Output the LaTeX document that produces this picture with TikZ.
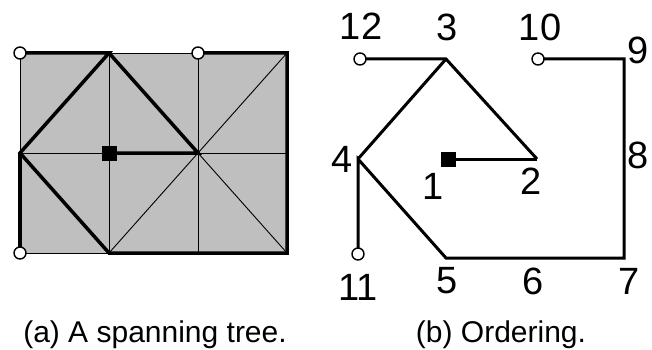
\documentclass[tikz,border=0pt]{standalone}
\usepackage{fontspec}
\setmainfont{Liberation Sans}
\begin{document}
\begin{tikzpicture}[x=1pt,y=-1pt,
  thinedge/.style={line width=0.9pt},
  thickedge/.style={line width=3.5pt, line join=miter},
  treeedge/.style={line width=3pt, line join=miter},
  leaf/.style={circle, draw, fill=white, line width=1.4pt, minimum size=12pt, inner sep=0pt},
  root/.style={rectangle, fill=black, minimum size=15pt, inner sep=0pt},
  num/.style={inner sep=0pt, font=\fontsize{38}{42}\selectfont},
  captext/.style={inner sep=0pt, font=\fontsize{30}{34}\selectfont}]
\useasboundingbox (0,0) rectangle (652,350);
% ---------- (a) grid ----------
\coordinate (g00) at (20,53);  \coordinate (g10) at (109,53);
\coordinate (g20) at (198,53); \coordinate (g30) at (287,53);
\coordinate (g01) at (20,153); \coordinate (g11) at (109,153);
\coordinate (g21) at (198,153);\coordinate (g31) at (287,153);
\coordinate (g02) at (20,253); \coordinate (g12) at (109,253);
\coordinate (g22) at (198,253);\coordinate (g32) at (287,253);
\fill[black!25] (g00) rectangle (g32);
\draw[thinedge] (g00) rectangle (g32);
\draw[thinedge] (g10) -- (g12) (g20) -- (g22) (g01) -- (g31);
\draw[thinedge] (g21) -- (g30) (g21) -- (g32) (g21) -- (g12);
\draw[thickedge] (g00) -- (g10) -- (g01) -- (g12) -- (g32) -- (g30) -- (g20);
\draw[thickedge] (g01) -- (g02);
\draw[thickedge] (g10) -- (g21) -- (g11);
\node[root] (aroot) at (g11) {};
\node[leaf] (la) at (g00) {};
\node[leaf] (lb) at (g20) {};
\node[leaf] (lc) at (g02) {};
\node[captext] (capa) at (155,335) {(a) A spanning tree.};
% ---------- (b) ordering ----------
\coordinate (n2) at (537,159);
\coordinate (n3) at (446,59);
\coordinate (n4) at (358,159);
\coordinate (n5) at (446,258);
\coordinate (n7) at (624,258);
\coordinate (n9) at (624,59);
\coordinate (p12) at (360,59);
\coordinate (p10) at (538,59);
\coordinate (p11) at (358,254);
\coordinate (p1) at (448,159);
\draw[treeedge] (p1) -- (n2);
\draw[treeedge] (p12) -- (n3) -- (n2);
\draw[treeedge] (n3) -- (n4);
\draw[treeedge] (p11) -- (n4) -- (n5) -- (n7) -- (n9) -- (p10);
\node[root] (n1) at (p1) {};
\node[leaf] (n12) at (p12) {};
\node[leaf] (n10) at (p10) {};
\node[leaf] (n11) at (p11) {};
\node[num] (t12) at (361,26) {12};
\node[num] (t3) at (447,27) {3};
\node[num] (t10) at (540,27) {10};
\node[num] (t9) at (638,50) {9};
\node[num] (t8) at (638,155) {8};
\node[num] (t7) at (629,281) {7};
\node[num] (t6) at (533,281) {6};
\node[num] (t5) at (447,281) {5};
\node[num] (t11) at (358,287) {11};
\node[num] (t4) at (342,159) {4};
\node[num] (t1) at (433,186) {1};
\node[num] (t2) at (531,181) {2};
\node[captext] (capb) at (501,335) {(b) Ordering.};
\end{tikzpicture}
\end{document}
